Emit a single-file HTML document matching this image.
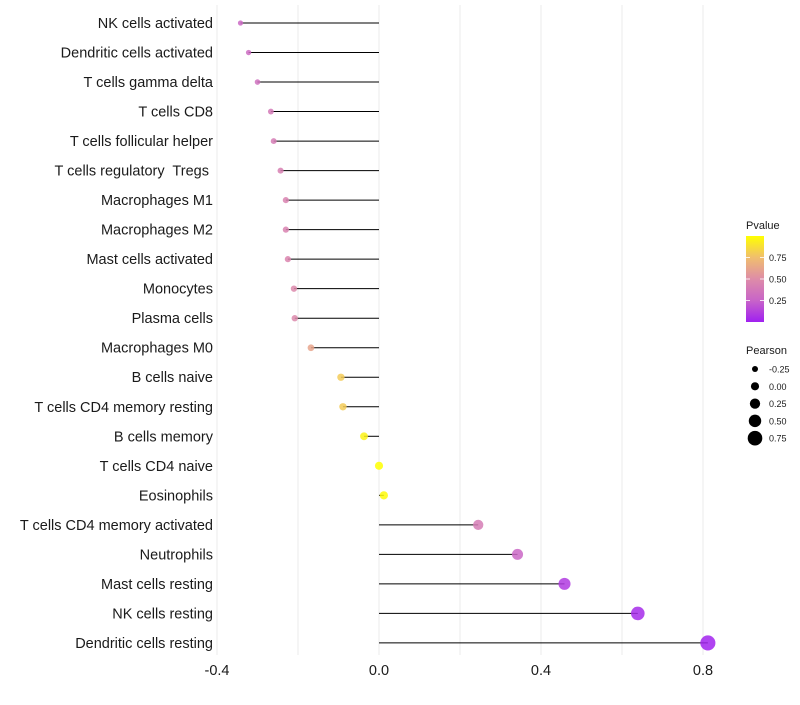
<!DOCTYPE html>
<html><head><meta charset="utf-8"><style>
body{margin:0;background:#fff;font-family:"Liberation Sans",sans-serif}
text{white-space:pre}
</style></head><body>
<svg id="c" width="800" height="700" xmlns="http://www.w3.org/2000/svg" font-family="Liberation Sans, sans-serif"></svg>
<script>
const categories=["NK cells activated","Dendritic cells activated","T cells gamma delta","T cells CD8","T cells follicular helper","T cells regulatory  Tregs ","Macrophages M1","Macrophages M2","Mast cells activated","Monocytes","Plasma cells","Macrophages M0","B cells naive","T cells CD4 memory resting","B cells memory","T cells CD4 naive","Eosinophils","T cells CD4 memory activated","Neutrophils","Mast cells resting","NK cells resting","Dendritic cells resting"];
const pearson=[-0.342,-0.322,-0.30,-0.267,-0.26,-0.243,-0.23,-0.23,-0.225,-0.21,-0.208,-0.168,-0.094,-0.089,-0.037,0.0,0.012,0.245,0.342,0.458,0.639,0.812];
const pvalue=[0.28,0.3,0.33,0.38,0.4,0.42,0.44,0.44,0.45,0.48,0.48,0.62,0.8,0.8,0.95,1.0,0.98,0.4,0.27,0.1,0.04,0.01];
const xTicks=[-0.4,0.0,0.4,0.8];
const xTickLabels=["-0.4","0.0","0.4","0.8"];
const pLegendTicks=[0.25,0.5,0.75];
const pLegendLabels=["0.25","0.50","0.75"];
const sizeLegend=[-0.25,0,0.25,0.5,0.75];
const sizeLegendLabels=["-0.25","0.00","0.25","0.50","0.75"];

const svg=document.getElementById('c');const NS="http://www.w3.org/2000/svg";
function mk(t,a,p){const e=document.createElementNS(NS,t);for(const k in a)e.setAttribute(k,a[k]);(p||svg).appendChild(e);return e;}
const x=v=>379+v*405;
const y=i=>23+i*29.52;
const r=v=>Math.max(1.5,3+(v+0.25)*4.3);
const stops=[[0,[160,32,240]],[0.25,[200,100,200]],[0.5,[222,140,168]],[0.75,[240,190,110]],[1,[255,255,0]]];
function col(p){for(let i=0;i<stops.length-1;i++){const a=stops[i],b=stops[i+1];if(p<=b[0]){const t=(p-a[0])/(b[0]-a[0]);return 'rgb('+a[1].map((c,j)=>Math.round(c+(b[1][j]-c)*t)).join(',')+')';}}return 'rgb(255,255,0)';}
for(let v=-0.4;v<=0.81;v+=0.2){const g=mk('line',{x1:x(v),x2:x(v),y1:5,y2:655,stroke:'#ebebeb','stroke-width':1});

}
categories.forEach((c,i)=>{
const t=mk('text',{x:213,y:y(i)+5,'text-anchor':'end','font-size':14.5,fill:'#1a1a1a'});t.textContent=c;


const s=mk('line',{x1:x(0),x2:x(pearson[i]),y1:y(i),y2:y(i),stroke:'#000','stroke-width':1});


const d=mk('circle',{cx:x(pearson[i]),cy:y(i),r:r(pearson[i]),fill:col(pvalue[i]),'fill-opacity':0.85});


});
xTicks.forEach((v,i)=>{const t=mk('text',{x:x(v),y:675,'text-anchor':'middle','font-size':14.5,fill:'#1a1a1a'});t.textContent=xTickLabels[i];

});
const lt=mk('text',{x:746,y:229,'font-size':11,fill:'#1a1a1a'});lt.textContent='Pvalue';


const defs=mk('defs',{});const lg=mk('linearGradient',{id:'pg',x1:0,y1:1,x2:0,y2:0},defs);
stops.forEach(s=>mk('stop',{offset:s[0],'stop-color':col(s[0])},lg));
const bar=mk('rect',{x:746,y:236,width:18,height:86,fill:'url(#pg)'});


pLegendTicks.forEach((v,i)=>{const yy=322-v*86;
mk('line',{x1:746,x2:750,y1:yy,y2:yy,stroke:'#fff','stroke-width':0.8});mk('line',{x1:760,x2:764,y1:yy,y2:yy,stroke:'#fff','stroke-width':0.8});
const t=mk('text',{x:769,y:yy+3.5,'font-size':9,fill:'#1a1a1a'});t.textContent=pLegendLabels[i];

});
const st=mk('text',{x:746,y:354,'font-size':11,fill:'#1a1a1a'});st.textContent='Pearson';


sizeLegend.forEach((v,i)=>{const yy=369+i*17.3;
const c=mk('circle',{cx:755,cy:yy,r:r(v),fill:'#000'});


const t=mk('text',{x:769,y:yy+3.5,'font-size':9,fill:'#1a1a1a'});t.textContent=sizeLegendLabels[i];

});
</script>
</body></html>
